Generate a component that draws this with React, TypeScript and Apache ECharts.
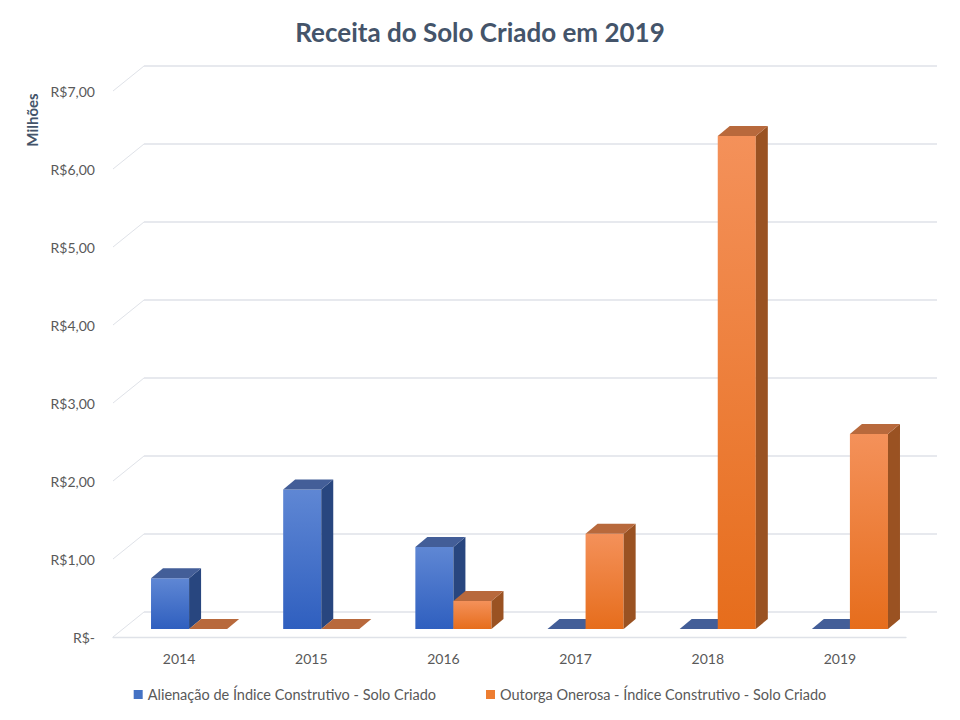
import React, { useEffect, useRef } from "react";
import * as echarts from "echarts";

const categories = ["2014", "2015", "2016", "2017", "2018", "2019"];
const alienacao = [0.65, 1.79, 1.05, 0, 0, 0];
const outorga = [0, 0, 0.36, 1.22, 6.32, 2.5];
const yTicks = [0, 1, 2, 3, 4, 5, 6, 7];
const seriesNames = [
  "Alienação de Índice Construtivo - Solo Criado",
  "Outorga Onerosa - Índice Construtivo - Solo Criado",
];

const FONT = "Lato, 'Open Sans', sans-serif";
const WALL_DX = 31;
const WALL_DY = -25;
const PLANE_DX = 10;
const PLANE_DY = -8;
const BAR_DX = 12;
const BAR_DY = -10;
const GRID_COLOR = "#dfe2e8";

function fmt(v: number) {
  if (v === 0) return "R$-";
  return "R$" + v.toFixed(2).replace(".", ",");
}

function wallRender(params: any, api: any) {
  const cs = params.coordSys;
  const v = api.value(1);
  const p = api.coord([0, v]);
  const y = p[1];
  const x0 = cs.x;
  const x1 = cs.x + cs.width;
  return {
    type: "group",
    children: [
      {
        type: "line",
        shape: { x1: x0, y1: y, x2: x0 + WALL_DX, y2: y + WALL_DY },
        style: { stroke: GRID_COLOR, lineWidth: 1 },
      },
      {
        type: "line",
        shape: { x1: x0 + WALL_DX, y1: y + WALL_DY, x2: x1 + WALL_DX, y2: y + WALL_DY },
        style: { stroke: GRID_COLOR, lineWidth: 1.3 },
      },
    ],
  };
}

function makeBarRender(side: number, c: { f0: string; f1: string; side: string; top: string }) {
  return (params: any, api: any) => {
    const idx = api.value(0);
    const v = api.value(1);
    const top = api.coord([idx, v]);
    const base = api.coord([idx, 0]);
    const band = api.size([1, 0])[0];
    const w = band * 0.288;
    const cx = top[0] + PLANE_DX;
    const xl = side === 0 ? cx - w : cx;
    const xr = xl + w;
    const yT = top[1] + PLANE_DY;
    const yB = base[1] + PLANE_DY;
    const children: any[] = [];
    if (yB - yT > 0.5) {
      children.push({
        type: "rect",
        shape: { x: xl, y: yT, width: w, height: yB - yT },
        style: {
          fill: new echarts.graphic.LinearGradient(0, 0, 0, 1, [
            { offset: 0, color: c.f0 },
            { offset: 1, color: c.f1 },
          ]),
        },
      });
      children.push({
        type: "polygon",
        shape: {
          points: [
            [xr, yT],
            [xr + BAR_DX, yT + BAR_DY],
            [xr + BAR_DX, yB + BAR_DY],
            [xr, yB],
          ],
        },
        style: { fill: c.side },
      });
    }
    children.push({
      type: "polygon",
      shape: {
        points: [
          [xl, yT],
          [xl + BAR_DX, yT + BAR_DY],
          [xr + BAR_DX, yT + BAR_DY],
          [xr, yT],
        ],
      },
      style: { fill: c.top },
    });
    return { type: "group", children };
  };
}

export default function App() {
  const ref = useRef<HTMLDivElement>(null);
  useEffect(() => {
    if (!ref.current) return;
    const chart = echarts.init(ref.current, undefined, { renderer: "svg" });
    chart.setOption({
      animation: false,
      backgroundColor: "#ffffff",
      title: {
        text: "Receita do Solo Criado em 2019",
        left: "center",
        top: 14,
        textStyle: { fontFamily: FONT, fontSize: 26, fontWeight: "bold", color: "#44546a" },
      },
      graphic: [
        {
          type: "text",
          x: 32,
          y: 120,
          rotation: Math.PI / 2,
          style: {
            text: "Milhões",
            fontFamily: FONT,
            fontSize: 15,
            fontWeight: "bold",
            fill: "#44546a",
            align: "center",
            verticalAlign: "middle",
          },
        },
      ],
      legend: {
        top: 682,
        left: "center",
        itemWidth: 9,
        itemHeight: 9,
        itemGap: 50,
        icon: "rect",
        textStyle: { fontFamily: FONT, fontSize: 14.5, color: "#595959" },
        data: seriesNames,
      },
      grid: { left: 113, right: 54, top: 91, bottom: 83 },
      xAxis: {
        type: "category",
        data: categories,
        axisLine: { show: true, lineStyle: { color: GRID_COLOR, width: 1.3 } },
        axisTick: { show: false },
        axisLabel: { fontFamily: FONT, fontSize: 14, color: "#595959", margin: 14 },
        splitLine: { show: false },
      },
      yAxis: {
        type: "value",
        min: 0,
        max: 7,
        interval: 1,
        axisLine: { show: false },
        axisTick: { show: false },
        splitLine: { show: false },
        axisLabel: {
          fontFamily: FONT,
          fontSize: 14,
          color: "#595959",
          margin: 18,
          formatter: (v: number) => fmt(v),
        },
      },
      series: [
        {
          type: "custom",
          name: "wall",
          silent: true,
          z: 1,
          renderItem: wallRender,
          data: yTicks.map((v) => [0, v]),
        },
        {
          type: "custom",
          name: seriesNames[0],
          z: 2,
          itemStyle: { color: "#4472c4" },
          renderItem: makeBarRender(0, { f0: "#5f87d4", f1: "#2f5fbf", side: "#28467f", top: "#435e98" }),
          data: alienacao.map((v, i) => [i, v]),
        },
        {
          type: "custom",
          name: seriesNames[1],
          z: 3,
          itemStyle: { color: "#ed7d31" },
          renderItem: makeBarRender(1, { f0: "#f4915a", f1: "#e66d1c", side: "#9a5222", top: "#b8693c" }),
          data: outorga.map((v, i) => [i, v]),
        },
      ],
    });
    return () => chart.dispose();
  }, []);
  return (
    <div
      ref={ref}
      style={{ position: "fixed", left: 0, top: 0, width: 960, height: 720 }}
    />
  );
}
